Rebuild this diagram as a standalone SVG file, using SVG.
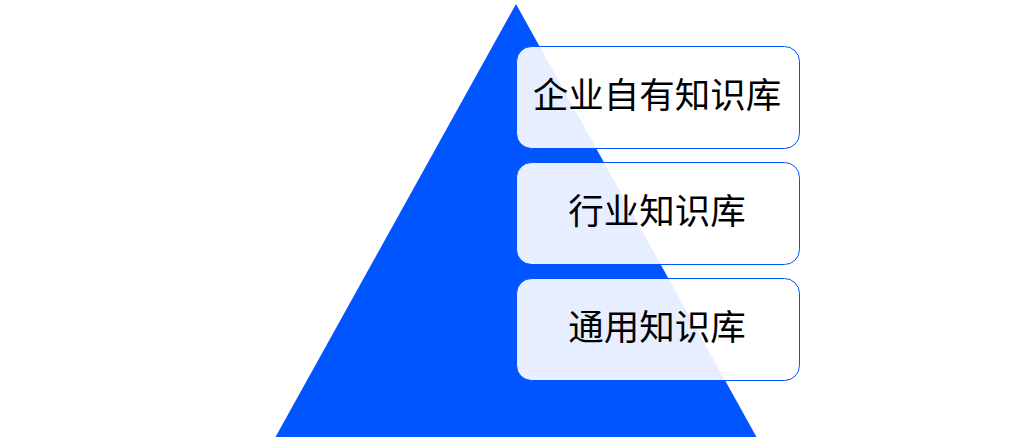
<svg xmlns="http://www.w3.org/2000/svg" width="1034" height="447" viewBox="0 0 1034 447">
<style>
.box{fill:#ffffff;fill-opacity:0.9;stroke:#0055ff;stroke-width:1}
.lbl{font-family:"Liberation Serif","Noto Sans CJK SC",serif;font-size:35.5px;fill:#000000;text-anchor:middle;dominant-baseline:central}
</style>
<rect width="1034" height="447" fill="#ffffff"/>
<g id="pyramid">
<polygon points="516,4 756.5,437 275.5,437" fill="#0055ff"/>
</g>
<g id="connectors"></g>
<g id="node1">
<rect class="box" x="516.5" y="46.5" width="283" height="102" rx="15"/>
<text class="lbl" x="657" y="96">企业自有知识库</text>
</g>
<g id="node2">
<rect class="box" x="516.5" y="162.5" width="283" height="102" rx="15"/>
<text class="lbl" x="657" y="212">行业知识库</text>
</g>
<g id="node3">
<rect class="box" x="516.5" y="278.5" width="283" height="102" rx="15"/>
<text class="lbl" x="657" y="328">通用知识库</text>
</g>
</svg>
